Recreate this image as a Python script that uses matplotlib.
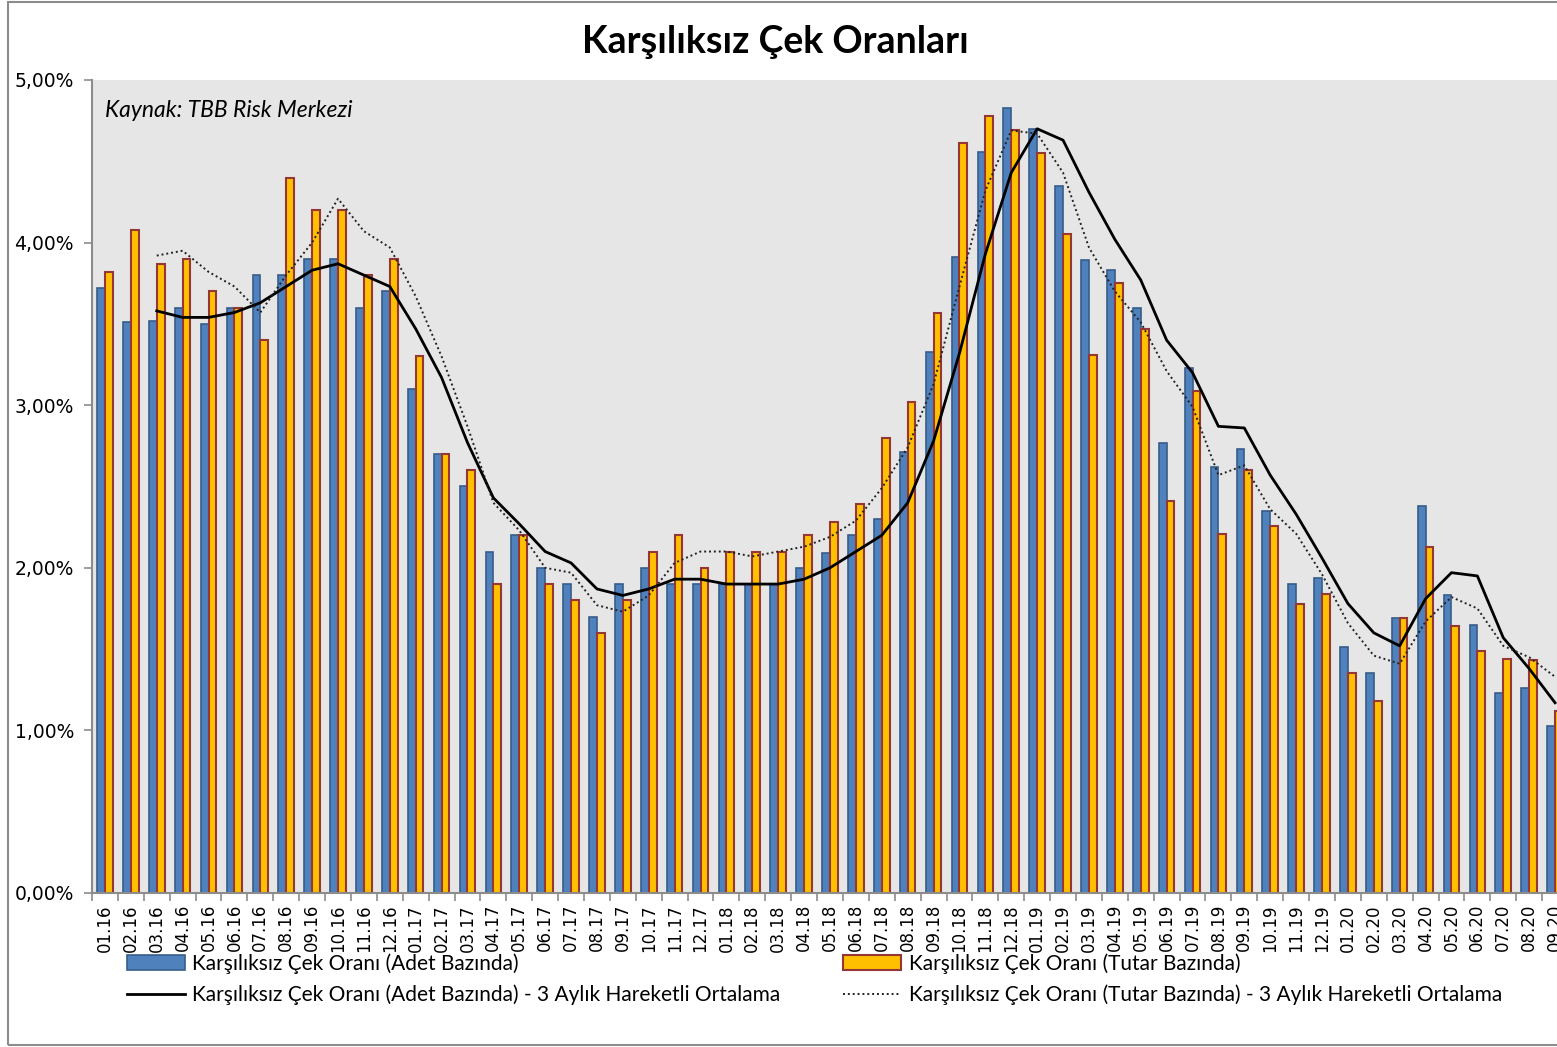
import matplotlib
matplotlib.use("Agg")
import matplotlib.pyplot as plt
import numpy as np
from matplotlib.patches import Rectangle

# months 01.16 .. 09.20
months = ["01.16", "02.16", "03.16", "04.16", "05.16", "06.16", "07.16", "08.16", "09.16", "10.16", "11.16", "12.16",
          "01.17", "02.17", "03.17", "04.17", "05.17", "06.17", "07.17", "08.17", "09.17", "10.17", "11.17", "12.17",
          "01.18", "02.18", "03.18", "04.18", "05.18", "06.18", "07.18", "08.18", "09.18", "10.18", "11.18", "12.18",
          "01.19", "02.19", "03.19", "04.19", "05.19", "06.19", "07.19", "08.19", "09.19", "10.19", "11.19", "12.19",
          "01.20", "02.20", "03.20", "04.20", "05.20", "06.20", "07.20", "08.20", "09.20"]

# rate by count (adet), %
adet = [3.72, 3.51, 3.52, 3.60, 3.50, 3.60, 3.80, 3.80, 3.90, 3.90, 3.60, 3.70,
        3.10, 2.70, 2.50, 2.10, 2.20, 2.00, 1.90, 1.70, 1.90, 2.00, 1.90, 1.90,
        1.90, 1.90, 1.90, 2.00, 2.09, 2.20, 2.30, 2.71, 3.33, 3.91, 4.56, 4.83,
        4.70, 4.35, 3.89, 3.83, 3.60, 2.77, 3.23, 2.62, 2.73, 2.35, 1.90, 1.94,
        1.51, 1.35, 1.69, 2.38, 1.83, 1.65, 1.23, 1.26, 1.03]

# rate by amount (tutar), %
tutar = [3.82, 4.08, 3.87, 3.90, 3.70, 3.60, 3.40, 4.40, 4.20, 4.20, 3.80, 3.90,
         3.30, 2.70, 2.60, 1.90, 2.20, 1.90, 1.80, 1.60, 1.80, 2.10, 2.20, 2.00,
         2.10, 2.10, 2.10, 2.20, 2.28, 2.39, 2.80, 3.02, 3.57, 4.61, 4.78, 4.69,
         4.55, 4.05, 3.31, 3.75, 3.47, 2.41, 3.09, 2.21, 2.60, 2.26, 1.78, 1.84,
         1.35, 1.18, 1.69, 2.13, 1.64, 1.49, 1.44, 1.43, 1.12]

# 3-month moving averages (start at 03.16)
adet_ma = [None, None, 3.58, 3.54, 3.54, 3.57, 3.63, 3.73, 3.83, 3.87, 3.80, 3.73,
           3.47, 3.17, 2.77, 2.43, 2.27, 2.10, 2.03, 1.87, 1.83, 1.87, 1.93, 1.93,
           1.90, 1.90, 1.90, 1.93, 2.00, 2.10, 2.20, 2.40, 2.78, 3.32, 3.93, 4.43,
           4.70, 4.63, 4.31, 4.02, 3.77, 3.40, 3.20, 2.87, 2.86, 2.57, 2.33, 2.06,
           1.78, 1.60, 1.52, 1.81, 1.97, 1.95, 1.57, 1.38, 1.17]

tutar_ma = [None, None, 3.92, 3.95, 3.82, 3.73, 3.57, 3.80, 4.00, 4.27, 4.07, 3.97,
            3.67, 3.30, 2.87, 2.40, 2.23, 2.00, 1.97, 1.77, 1.73, 1.83, 2.03, 2.10,
            2.10, 2.07, 2.10, 2.13, 2.19, 2.29, 2.49, 2.74, 3.13, 3.73, 4.32, 4.69,
            4.67, 4.43, 3.97, 3.70, 3.51, 3.21, 2.99, 2.57, 2.63, 2.36, 2.21, 1.96,
            1.66, 1.46, 1.41, 1.67, 1.82, 1.75, 1.52, 1.45, 1.33]

W, H = 1557, 1047
fig = plt.figure(figsize=(W / 100, H / 100), dpi=100)

# outer chart border
fig.patches.append(Rectangle((8 / W, 0.002), 1.2, 0.996, transform=fig.transFigure,
                             fill=False, edgecolor="#8c8c8c", linewidth=1.5))

# axes run past the right edge like in the original crop
ax = fig.add_axes([92 / W, 1 - 893 / H, 1476 / W, 813 / H])
ax.set_facecolor("#e6e6e6")

x = np.arange(len(months))
w = 0.3
b1 = ax.bar(x - w / 2, adet, w, color="#4f81bd", edgecolor="#385d8a", linewidth=1.2, zorder=2)
b2 = ax.bar(x + w / 2, tutar, w, color="#ffc000", edgecolor="#953735", linewidth=1.5, zorder=2)

ma1 = np.array([np.nan if v is None else v for v in adet_ma])
ma2 = np.array([np.nan if v is None else v for v in tutar_ma])
l1, = ax.plot(x, ma1, color="black", linewidth=2.0, zorder=3)
l2, = ax.plot(x, ma2, color="#222222", linewidth=1.4, linestyle=(0, (1, 1.5)), zorder=3)

ax.set_xlim(-0.5, len(months) - 0.5)
ax.set_ylim(0, 5)
ax.set_yticks([0, 1, 2, 3, 4, 5])
ax.set_yticklabels([("%.2f%%" % v).replace(".", ",") for v in [0, 1, 2, 3, 4, 5]])
ax.set_xticks(x)
ax.set_xticklabels(months, rotation=90, fontsize=12)
ax.set_xticks(np.arange(-0.5, len(months), 1), minor=True)
ax.tick_params(axis="x", which="major", length=0, pad=8)
ax.tick_params(axis="x", which="minor", length=6, color="#8c8c8c", width=1.2)
ax.tick_params(axis="y", length=6, color="#8c8c8c", width=1.2, labelsize=13.5, pad=7)

for s in ["top", "right"]:
    ax.spines[s].set_visible(False)
for s in ["left", "bottom"]:
    ax.spines[s].set_color("#8c8c8c")
    ax.spines[s].set_linewidth(1.5)

fig.text(775 / W, 1 - 42 / H, "Karşılıksız Çek Oranları", ha="center", va="center",
         fontsize=27, fontweight="bold", family="Lato")
ax.text(0.009, 0.962, "Kaynak: TBB Risk Merkezi", transform=ax.transAxes,
        fontsize=16.5, style="italic", family="Lato", va="center", ha="left")

# column-wise fill: bar, line | bar, line
fig.legend([b1, l1, b2, l2],
           ["Karşılıksız Çek Oranı (Adet Bazında)",
            "Karşılıksız Çek Oranı (Adet Bazında) - 3 Aylık Hareketli Ortalama",
            "Karşılıksız Çek Oranı (Tutar Bazında)",
            "Karşılıksız Çek Oranı (Tutar Bazında) - 3 Aylık Hareketli Ortalama"],
           ncol=2, loc="center left", bbox_to_anchor=(112 / W, 1 - 979 / H), frameon=False,
           prop={"family": "Lato", "size": 15}, handlelength=2.8, handletextpad=0.35,
           columnspacing=3.0, labelspacing=0.5, borderpad=0.2)

fig.savefig("out.png", dpi=100)
